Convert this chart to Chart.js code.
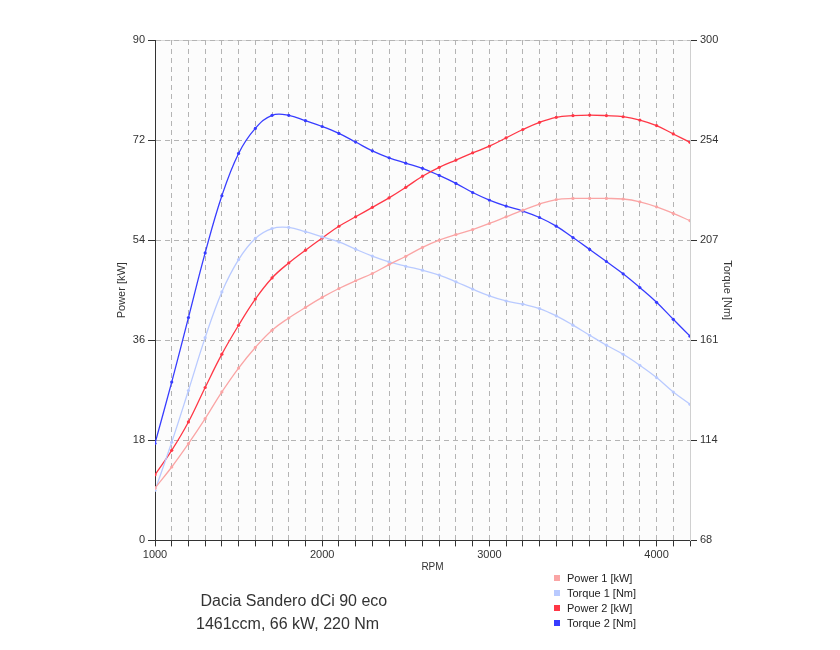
<!DOCTYPE html>
<html>
<head>
<meta charset="utf-8">
<title>Dacia Sandero dCi 90 eco</title>
<script src="https://cdn.jsdelivr.net/npm/chart.js@4.4.1/dist/chart.umd.min.js"></script>
<style>
  body { margin: 0; background: #fff; font-family: "Liberation Sans", Arial, sans-serif; }
  #wrap { position: relative; width: 840px; height: 650px; }
  #note { position: absolute; left: 196px; top: 589px; font-size: 16px; color: #333; line-height: 23px; }
  #legend { position: absolute; left: 554px; top: 571px; font-size: 11px; color: #222; }
  #legend div { height: 15px; line-height: 14px; white-space: nowrap; }
  #legend span { display: inline-block; width: 6px; height: 6px; margin-right: 7px; vertical-align: 1px; }
</style>
</head>
<body>
<div id="wrap">
  <canvas id="chartContainer" width="840" height="650"></canvas>
  <div id="note">&nbsp;Dacia Sandero dCi 90 eco<br>1461ccm, 66 kW, 220 Nm</div>
  <div id="legend"></div>
</div>
<script>
// дані
const rpm = [1000, 1100, 1200, 1300, 1400, 1500, 1600, 1700, 1800, 1900, 2000,
  2100, 2200, 2300, 2400, 2500, 2600, 2700, 2800, 2900, 3000,
  3100, 3200, 3300, 3400, 3500, 3600, 3700, 3800, 3900, 4000, 4100, 4200];

const power1 = [9.4, 13.2, 17.4, 21.9, 26.7, 31.0, 34.7, 37.8, 40.0, 41.9, 43.7,
  45.3, 46.7, 48.0, 49.6, 51.1, 52.7, 54.0, 55.0, 55.9, 57.0,
  58.2, 59.4, 60.5, 61.3, 61.5, 61.5, 61.5, 61.4, 60.9, 60.0, 58.8, 57.5];

const torque1 = [91.2, 113.5, 137.5, 162, 183.2, 198.2, 208.0, 212.6, 213.1, 211.1, 208.7,
  206.4, 203.0, 199.8, 197.1, 195.1, 193.3, 191.0, 187.9, 184.5, 181.4,
  179, 177.5, 175.5, 172.1, 167.8, 163.1, 158.5, 154.3, 149.2, 143.5, 136.8, 131.1];

const power2 = [11.8, 16.2, 21.3, 27.5, 33.5, 38.7, 43.4, 47.2, 49.9, 52.2, 54.4,
  56.5, 58.2, 59.9, 61.6, 63.5, 65.5, 67.1, 68.4, 69.7, 70.9,
  72.4, 73.9, 75.2, 76.1, 76.4, 76.5, 76.4, 76.2, 75.6, 74.6, 73.1, 71.6];

const torque2 = [113, 141.4, 171.3, 201.3, 227.8, 247.4, 259.0, 265.1, 265.1, 262.6, 259.9,
  256.7, 252.7, 248.6, 245.4, 242.9, 240.5, 237.2, 233.5, 229.3, 225.8,
  223, 220.7, 217.7, 213.7, 208.4, 202.9, 197.3, 191.6, 185.2, 178.4, 170.5, 162.7];

// підписи осей
const powerTicks = [0, 18, 36, 54, 72, 90];
const torqueTicks = [68, 114, 161, 207, 254, 300];
const rpmLabels = [1000, 2000, 3000, 4000];

const series = [
  { label: "Power 1 [kW]", data: power1, color: "rgb(250,165,165)", axis: "y" },
  { label: "Torque 1 [Nm]", data: torque1, color: "rgb(185,202,255)", axis: "y1" },
  { label: "Power 2 [kW]", data: power2, color: "rgb(255,55,70)", axis: "y" },
  { label: "Torque 2 [Nm]", data: torque2, color: "rgb(55,60,255)", axis: "y1" },
];

const tickFont = { family: "'Liberation Sans', Arial, sans-serif", size: 11 };

// фон області графіка, верхня рамка і підпис RPM
const plotBg = {
  id: "plotBg",
  beforeDraw(chart) {
    const { ctx, chartArea: a } = chart;
    ctx.save();
    ctx.fillStyle = "#fcfcfc";
    ctx.fillRect(a.left, a.top, a.right - a.left, a.bottom - a.top);
    ctx.strokeStyle = "#d8d8d8";
    ctx.lineWidth = 1;
    ctx.beginPath();
    ctx.moveTo(a.left, a.top + 0.5);
    ctx.lineTo(a.right, a.top + 0.5);
    ctx.stroke();
    ctx.restore();
  },
  afterDraw(chart) {
    const { ctx, chartArea: a } = chart;
    ctx.save();
    ctx.fillStyle = "#333";
    ctx.font = "10px 'Liberation Sans', Arial, sans-serif";
    ctx.textAlign = "center";
    ctx.textBaseline = "middle";
    ctx.fillText("RPM", (a.left + a.right) / 2 + 10, a.bottom + 27);
    ctx.restore();
  },
};

const ctx = document.getElementById("chartContainer").getContext("2d");
window.myChart = new Chart(ctx, {
  type: "line",
  data: {
    datasets: series.map((s) => ({
      label: s.label,
      data: s.data.map((v, i) => ({ x: rpm[i], y: v })),
      yAxisID: s.axis,
      borderColor: s.color,
      backgroundColor: s.color,
      borderWidth: 1.3,
      pointRadius: 1.6,
      pointBorderWidth: 0,
      tension: 0.4,
      fill: false,
    })),
  },
  options: {
    responsive: false,
    animation: false,
    layout: { padding: { left: 111, right: 102, top: 40, bottom: 72 } },
    plugins: { legend: { display: false }, tooltip: { enabled: false } },
    scales: {
      x: {
        type: "linear",
        min: 1000,
        max: 4200,
        ticks: {
          stepSize: 100,
          autoSkip: false,
          maxRotation: 0,
          padding: 2,
          color: "#333",
          font: tickFont,
          callback: (v) => (rpmLabels.includes(v) ? String(v) : ""),
        },
        grid: { color: "#b4b4b4", tickLength: 6, tickColor: "#333" },
        border: { color: "#333", width: 1, dash: [5, 4] },
        afterFit: (s) => { s.height = 37.6; },
      },
      y: {
        position: "left",
        min: 0,
        max: 90,
        ticks: {
          stepSize: 18,
          padding: 3,
          color: "#333",
          font: tickFont,
          callback: (v) => (powerTicks.includes(v) ? String(v) : ""),
        },
        grid: { color: "#b4b4b4", tickLength: 7, tickColor: "#333" },
        border: { color: "#333", width: 1, dash: [5, 4] },
        title: { display: true, text: "Power [kW]", color: "#333", font: tickFont },
        afterFit: (s) => { s.width = 44; },
      },
      y1: {
        position: "right",
        min: 68,
        max: 300,
        ticks: {
          stepSize: 46.4,
          padding: 3,
          color: "#333",
          font: tickFont,
          callback: (v, i) => String(torqueTicks[i]),
        },
        grid: { drawOnChartArea: false, tickLength: 7, tickColor: "#333" },
        border: { color: "#d0d0d0", width: 1 },
        title: { display: true, text: "Torque [Nm]", color: "#333", font: tickFont },
        afterFit: (s) => { s.width = 48; },
      },
    },
  },
  plugins: [plotBg],
});

// легенда праворуч знизу
const legend = document.getElementById("legend");
series.forEach((s) => {
  const row = document.createElement("div");
  row.innerHTML = '<span style="background:' + s.color + '"></span>' + s.label;
  legend.appendChild(row);
});
</script>
</body>
</html>
